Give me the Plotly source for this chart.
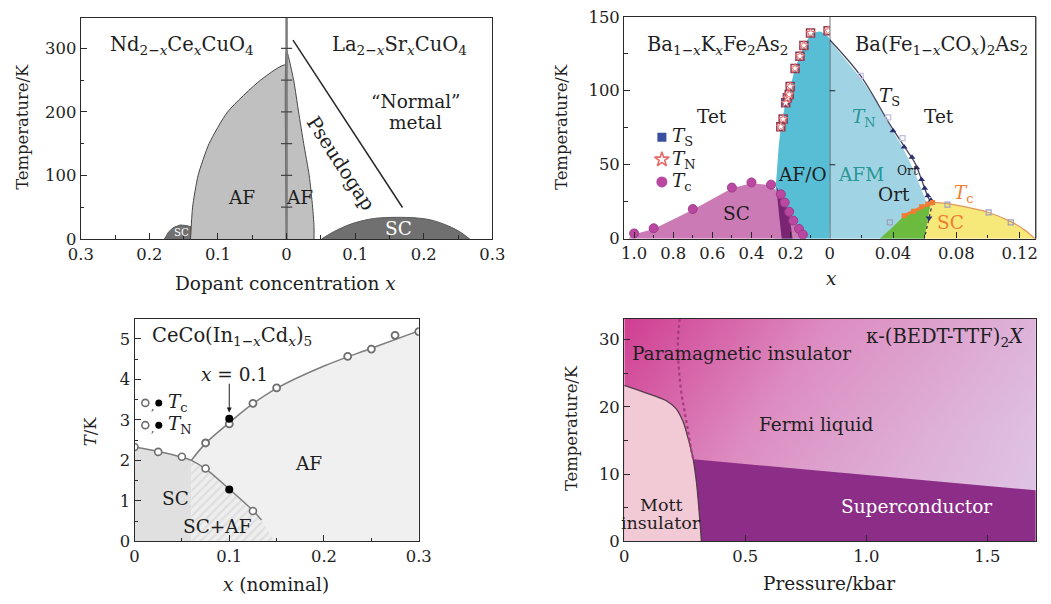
import plotly.graph_objects as go

W, H = 1051, 604
FONT = "DejaVu Serif"
FS = 1.027  # font scale


def px(x):
    return (1.0144 * x - 12.35) / W


def py(y):
    return 1 - (1.0128 * y - 2.63) / H


def fs(s):
    return round(s * FS, 1)


# ---------------- Panel (a): cuprates ----------------
a_af_left_x = [-0.140, -0.137, -0.129, -0.113, -0.086, -0.038, 0.0]
a_af_left_T = [0, 50, 100, 150, 200, 250, 274]
a_af_right_x = [0.0, 0.0103, 0.0175, 0.025, 0.033, 0.038, 0.040, 0.040]
a_af_right_T = [296, 250, 200, 150, 100, 50, 20, 0]
a_sc_small_x = [-0.178, -0.172, -0.165, -0.155, -0.146, -0.139]
a_sc_small_T = [0, 11, 18, 22, 21, 19]
a_sc_x = [0.051, 0.07, 0.09, 0.11, 0.13, 0.16, 0.19, 0.21, 0.23, 0.25, 0.267]
a_sc_T = [0, 12, 22, 28.5, 32.5, 34, 33, 30, 23, 13, 0]
a_pg_x = [0.0094, 0.169]
a_pg_T = [313, 49.5]
a_axis_ticks_T = [50, 100, 150, 200, 250, 300]

# ---------------- Panel (b): iron pnictides ----------------
b_tc_K_x = [1.0, 0.9, 0.7, 0.5, 0.4, 0.3, 0.25, 0.23, 0.207, 0.186, 0.157, 0.137]
b_tc_K_T = [3.5, 7.0, 20.0, 34.5, 38.0, 36.5, 30.0, 24.4, 18.2, 12.2, 6.6, 2.7]
b_tn_K_x = [0.25, 0.238, 0.225, 0.216, 0.207, 0.202, 0.177, 0.152, 0.132, 0.098, 0.008]
b_tn_K_T = [75.7, 80.8, 91.8, 95.2, 97.4, 102.9, 115.1, 123.3, 130.6, 139.0, 140.5]
b_ts_K_x = [0.225]
b_ts_K_T = [91.8]
b_afo_x = [0.28, 0.276, 0.27, 0.262, 0.25, 0.225, 0.2, 0.177, 0.15, 0.12, 0.09, 0.05, 0.02, 0.0, 0.0]
b_afo_T = [0, 35, 45, 60, 75, 92, 103, 115, 124, 133, 138.5, 140, 138, 135, 0]
b_scK_x = [1.03, 1.0, 0.9, 0.7, 0.5, 0.4, 0.3, 0.25, 0.23, 0.207, 0.186, 0.157, 0.137, 0.125]
b_scK_T = [0, 3.0, 6.5, 19.5, 34.0, 37.5, 36.0, 29.5, 24.0, 17.8, 11.8, 6.2, 2.4, 0]
b_coex_x = [0.272, 0.25, 0.23, 0.207, 0.19, 0.245, 0.258, 0.268]
b_coex_T = [35, 29.5, 24.0, 17.8, 0, 0, 15, 28]
b_afm_x = [0.0, 0.0, 0.02, 0.03, 0.037, 0.047, 0.054, 0.058, 0.061, 0.062, 0.060]
b_afm_T = [0, 134, 108, 92, 78, 60, 44, 33, 25, 22, 0]
b_ort_x = [0.0316, 0.04, 0.047, 0.0556, 0.0619, 0.064, 0.062, 0.0598]
b_ort_T = [0, 8, 15.5, 20.4, 24.0, 24.5, 13, 0]
b_scCo_x = [0.0598, 0.062, 0.064, 0.0744, 0.09, 0.1004, 0.1144, 0.123, 0.1296]
b_scCo_T = [0, 13, 24.5, 23.7, 20.5, 17.7, 11.5, 6, 0]
b_ts_Co_x = [0.0, 0.0196, 0.0379, 0.0473, 0.054, 0.0588, 0.0629, 0.065]
b_ts_Co_T = [134.5, 110, 77.4, 62, 50.9, 37.6, 26.5, 24.4]
b_tri_x = [0.04, 0.047, 0.052, 0.055, 0.058, 0.060, 0.062, 0.064]
b_tri_T = [73, 62, 55, 48, 40, 34, 29, 26]
b_tcCo_x = [0.047, 0.053, 0.058, 0.062, 0.065]
b_tcCo_T = [15.5, 18.5, 21.5, 23.5, 24.5]
b_tcCo_open_x = [0.038, 0.0744, 0.1004, 0.1144]
b_tcCo_open_T = [11.0, 23.0, 17.7, 11.0]
b_split_x = [0.065, 0.0625, 0.0598]
b_split_T = [24.4, 12, 0]
b_open_ts_x = [0.0196, 0.037, 0.046]
b_open_ts_T = [110, 82, 68]
b_axis_ticks_T = [50, 100]

# ---------------- Panel (c): CeCo(In1-xCdx)5 ----------------
c_tc_x = [0, 0.025, 0.05, 0.075, 0.125]
c_tc_T = [2.33, 2.21, 2.09, 1.80, 0.75]
c_tc_fill_x = [0.1]
c_tc_fill_T = [1.28]
c_tn_x = [0.075, 0.1, 0.125, 0.15, 0.225, 0.25, 0.275, 0.3]
c_tn_T = [2.43, 2.90, 3.41, 3.79, 4.57, 4.75, 5.09, 5.18]
c_tn_fill_x = [0.1]
c_tn_fill_T = [3.03]
c_tc_curve_x = [0, 0.025, 0.05, 0.06, 0.075, 0.1, 0.125, 0.134]
c_tc_curve_T = [2.33, 2.22, 2.08, 2.0, 1.79, 1.29, 0.76, 0.53]
c_tn_curve_x = [0.06, 0.075, 0.1, 0.125, 0.15, 0.2, 0.25, 0.3]
c_tn_curve_T = [2.0, 2.42, 2.93, 3.40, 3.78, 4.33, 4.77, 5.2]
c_coex_end_x = 0.148

# ---------------- Panel (d): kappa-(BEDT-TTF)2X ----------------
d_mott_P = [0, 0.104, 0.174, 0.215, 0.243, 0.264, 0.285, 0.299, 0.31, 0.319]
d_mott_T = [23.2, 21.9, 20.9, 19.7, 17.8, 15.3, 12.2, 8.6, 4.2, 0]
d_sc_P = [0.285, 1.7]
d_sc_T = [12.2, 7.6]
d_cross_P = [0.229, 0.222, 0.225, 0.236, 0.25, 0.264, 0.278, 0.285]
d_cross_T = [33.1, 29.9, 26, 22.1, 19.2, 16.3, 13.4, 12.2]
d_bg_P = [0, 0.85, 1.7]
d_bg_T = [0, 16.5, 33.1]
d_bg_z = [[0.35, 0.75, 1.0], [0.18, 0.62, 0.95], [0.0, 0.45, 0.82]]

fig = go.Figure()

XA, YA = "x", "y"
fig.add_trace(go.Scatter(x=a_sc_small_x + [a_sc_small_x[-1]], y=a_sc_small_T + [0],
                         fill="toself", fillcolor="rgb(112,112,112)", mode="lines",
                         line=dict(color="rgb(90,90,90)", width=1), xaxis=XA, yaxis=YA))
fig.add_trace(go.Scatter(x=a_sc_x, y=a_sc_T, fill="toself", fillcolor="rgb(112,112,112)",
                         mode="lines", line=dict(color="rgb(90,90,90)", width=1, shape="spline"),
                         xaxis=XA, yaxis=YA))
fig.add_trace(go.Scatter(x=a_af_left_x + [0.0], y=a_af_left_T + [0], fill="toself",
                         fillcolor="rgb(192,192,192)", mode="lines",
                         line=dict(color="rgb(70,70,70)", width=1, shape="spline", smoothing=0.6),
                         xaxis=XA, yaxis=YA))
fig.add_trace(go.Scatter(x=[0.0] + a_af_right_x, y=[0] + a_af_right_T, fill="toself",
                         fillcolor="rgb(192,192,192)", mode="lines",
                         line=dict(color="rgb(70,70,70)", width=1, shape="spline", smoothing=0.6),
                         xaxis=XA, yaxis=YA))
fig.add_trace(go.Scatter(x=a_pg_x, y=a_pg_T, mode="lines", line=dict(color="rgb(40,40,40)", width=1.5),
                         xaxis=XA, yaxis=YA))
fig.add_trace(go.Scatter(x=[0, 0], y=[0, 348], mode="lines", line=dict(color="rgb(125,125,125)", width=2.5),
                         xaxis=XA, yaxis=YA))
fig.add_trace(go.Scatter(x=[0] * len(a_axis_ticks_T), y=a_axis_ticks_T, mode="markers",
                         marker=dict(symbol="line-ew", size=8, line=dict(color="rgb(70,70,70)", width=1.2)),
                         xaxis=XA, yaxis=YA))

XL, XR, YB = "x2", "x3", "y2"
CYAN = "rgb(88,190,214)"
fig.add_trace(go.Scatter(x=b_afo_x, y=b_afo_T, fill="toself", fillcolor=CYAN, mode="lines",
                         line=dict(width=0, color=CYAN, shape="spline", smoothing=0.5), xaxis=XL, yaxis=YB))
fig.add_trace(go.Scatter(x=b_scK_x, y=b_scK_T, fill="toself", fillcolor="rgb(204,122,182)", mode="lines",
                         line=dict(width=0, color="rgb(204,122,182)"), xaxis=XL, yaxis=YB))
fig.add_trace(go.Scatter(x=b_coex_x, y=b_coex_T, fill="toself", fillcolor="rgb(122,36,116)", mode="lines",
                         line=dict(width=0, color="rgb(122,36,116)"), xaxis=XL, yaxis=YB))
fig.add_trace(go.Scatter(x=b_tc_K_x, y=b_tc_K_T, mode="markers",
                         marker=dict(symbol="circle", size=9, color="rgb(186,72,160)",
                                     line=dict(color="rgb(160,60,140)", width=1)), xaxis=XL, yaxis=YB))
fig.add_trace(go.Scatter(x=b_tn_K_x, y=b_tn_K_T, mode="markers",
                         marker=dict(symbol="square-open", size=8, color="rgb(140,60,80)",
                                     line=dict(width=1.5)), xaxis=XL, yaxis=YB))
fig.add_trace(go.Scatter(x=b_ts_K_x, y=b_ts_K_T, mode="markers",
                         marker=dict(symbol="square", size=7, color="rgb(55,80,160)"), xaxis=XL, yaxis=YB))
fig.add_trace(go.Scatter(x=b_tn_K_x, y=b_tn_K_T, mode="markers",
                         marker=dict(symbol="star", size=7, color="white",
                                     line=dict(color="rgb(235,105,105)", width=1)), xaxis=XL, yaxis=YB))
fig.add_trace(go.Scatter(x=[0.858], y=[68.5], mode="markers",
                         marker=dict(symbol="square", size=9, color="rgb(55,80,160)"), xaxis=XL, yaxis=YB))
fig.add_trace(go.Scatter(x=[0.858], y=[53.5], mode="markers",
                         marker=dict(symbol="star", size=11, color="white",
                                     line=dict(color="rgb(235,105,105)", width=1.6)), xaxis=XL, yaxis=YB))
fig.add_trace(go.Scatter(x=[0.858], y=[38.3], mode="markers",
                         marker=dict(symbol="circle", size=11, color="rgb(186,72,160)"), xaxis=XL, yaxis=YB))

fig.add_trace(go.Scatter(x=b_afm_x, y=b_afm_T, fill="toself", fillcolor="rgb(160,212,228)", mode="lines",
                         line=dict(width=0, color="rgb(160,212,228)"), xaxis=XR, yaxis=YB))
fig.add_trace(go.Scatter(x=b_ort_x, y=b_ort_T, fill="toself", fillcolor="rgb(108,186,62)", mode="lines",
                         line=dict(width=0, color="rgb(108,186,62)"), xaxis=XR, yaxis=YB))
fig.add_trace(go.Scatter(x=b_scCo_x, y=b_scCo_T, fill="toself", fillcolor="rgb(246,233,122)", mode="lines",
                         line=dict(width=0, color="rgb(246,233,122)"), xaxis=XR, yaxis=YB))
fig.add_trace(go.Scatter(x=b_scCo_x[2:], y=b_scCo_T[2:], mode="lines",
                         line=dict(color="rgb(225,150,90)", width=1.2, shape="spline"), xaxis=XR, yaxis=YB))
fig.add_trace(go.Scatter(x=b_ts_Co_x, y=b_ts_Co_T, mode="lines",
                         line=dict(color="rgb(70,70,95)", width=1.3, shape="spline"), xaxis=XR, yaxis=YB))
fig.add_trace(go.Scatter(x=b_split_x, y=b_split_T, mode="lines",
                         line=dict(color="rgb(40,40,60)", width=1.2, dash="dot"), xaxis=XR, yaxis=YB))
fig.add_trace(go.Scatter(x=b_open_ts_x, y=b_open_ts_T, mode="markers",
                         marker=dict(symbol="square-open", size=5, color="rgb(190,190,225)", line=dict(width=1.2)),
                         xaxis=XR, yaxis=YB))
fig.add_trace(go.Scatter(x=b_tri_x, y=b_tri_T, mode="markers",
                         marker=dict(symbol="triangle-up", size=6, color="rgb(40,45,110)"), xaxis=XR, yaxis=YB))
fig.add_trace(go.Scatter(x=[0.0628], y=[14], mode="markers",
                         marker=dict(symbol="triangle-down", size=6, color="rgb(40,45,110)"), xaxis=XR, yaxis=YB))
fig.add_trace(go.Scatter(x=b_tcCo_x, y=b_tcCo_T, mode="lines+markers",
                         line=dict(color="rgb(240,125,50)", width=3),
                         marker=dict(symbol="square", size=5, color="rgb(240,125,50)"), xaxis=XR, yaxis=YB))
fig.add_trace(go.Scatter(x=b_tcCo_open_x, y=b_tcCo_open_T, mode="markers",
                         marker=dict(symbol="square-open", size=5, color="rgb(160,160,185)", line=dict(width=1.2)),
                         xaxis=XR, yaxis=YB))
fig.add_trace(go.Scatter(x=[0.0004] * len(b_axis_ticks_T), y=b_axis_ticks_T, mode="markers",
                         marker=dict(symbol="line-ew", size=7, line=dict(color="rgb(30,30,30)", width=1.1)),
                         xaxis=XR, yaxis=YB))

XC, YC = "x4", "y3"
GRAYLINE = "rgb(125,125,125)"
fig.add_trace(go.Scatter(x=[c_tn_curve_x[0]] + c_tn_curve_x + [c_tn_curve_x[-1]],
                         y=[0] + c_tn_curve_T + [0], fill="toself", fillcolor="rgb(240,240,240)",
                         mode="lines", line=dict(width=0, color="rgb(240,240,240)"), xaxis=XC, yaxis=YC))
fig.add_trace(go.Scatter(x=[0] + c_tc_curve_x[:4] + [c_tc_curve_x[3]],
                         y=[0] + c_tc_curve_T[:4] + [0], fill="toself", fillcolor="rgb(224,224,224)",
                         mode="lines", line=dict(width=0, color="rgb(224,224,224)"), xaxis=XC, yaxis=YC))
fig.add_trace(go.Scatter(x=[c_tc_curve_x[3]] + c_tc_curve_x[3:] + [c_coex_end_x],
                         y=[0] + c_tc_curve_T[3:] + [0], fill="toself", mode="lines",
                         fillcolor="rgb(236,236,236)",
                         fillpattern=dict(shape="/", bgcolor="rgb(238,238,238)", fgcolor="rgb(205,205,205)",
                                          size=6, solidity=0.35),
                         line=dict(width=0, color="rgb(236,236,236)"), xaxis=XC, yaxis=YC))
fig.add_trace(go.Scatter(x=c_tc_curve_x, y=c_tc_curve_T, mode="lines",
                         line=dict(color=GRAYLINE, width=1.5, shape="spline"), xaxis=XC, yaxis=YC))
fig.add_trace(go.Scatter(x=c_tn_curve_x, y=c_tn_curve_T, mode="lines",
                         line=dict(color=GRAYLINE, width=1.5, shape="spline"), xaxis=XC, yaxis=YC))
fig.add_trace(go.Scatter(x=c_tc_x, y=c_tc_T, mode="markers",
                         marker=dict(symbol="circle", size=7, color="white", line=dict(color="rgb(110,110,110)", width=1.6)),
                         xaxis=XC, yaxis=YC))
fig.add_trace(go.Scatter(x=c_tn_x, y=c_tn_T, mode="markers",
                         marker=dict(symbol="circle", size=7, color="white", line=dict(color="rgb(110,110,110)", width=1.8)),
                         xaxis=XC, yaxis=YC))
fig.add_trace(go.Scatter(x=c_tc_fill_x + c_tn_fill_x, y=c_tc_fill_T + c_tn_fill_T, mode="markers",
                         marker=dict(symbol="circle", size=8, color="black"), xaxis=XC, yaxis=YC))
fig.add_trace(go.Scatter(x=[0.0114, 0.0114], y=[3.42, 2.87], mode="markers",
                         marker=dict(symbol="circle", size=7, color="white", line=dict(color="rgb(110,110,110)", width=1.6)),
                         xaxis=XC, yaxis=YC))
fig.add_trace(go.Scatter(x=[0.0256, 0.0256], y=[3.42, 2.87], mode="markers",
                         marker=dict(symbol="circle", size=7, color="black"), xaxis=XC, yaxis=YC))

XD, YD = "x5", "y4"
fig.add_trace(go.Heatmap(x=d_bg_P, y=d_bg_T, z=d_bg_z, zsmooth="best", showscale=False, hoverinfo="skip",
                         colorscale=[[0, "rgb(208,62,146)"], [0.45, "rgb(221,140,192)"], [1, "rgb(222,198,230)"]],
                         xaxis=XD, yaxis=YD))
fig.add_trace(go.Scatter(x=[0] + d_mott_P + [0], y=[0] + d_mott_T + [0], fill="toself",
                         fillcolor="rgb(242,202,214)", mode="lines",
                         line=dict(width=0, color="rgb(242,202,214)"), xaxis=XD, yaxis=YD))
fig.add_trace(go.Scatter(x=d_sc_P + [d_sc_P[-1]] + d_mott_P[6:][::-1],
                         y=d_sc_T + [0] + d_mott_T[6:][::-1], fill="toself",
                         fillcolor="rgb(140,45,136)", mode="lines",
                         line=dict(width=0, color="rgb(140,45,136)"), xaxis=XD, yaxis=YD))
fig.add_trace(go.Scatter(x=d_mott_P, y=d_mott_T, mode="lines",
                         line=dict(color="rgb(85,60,75)", width=1.3, shape="spline"), xaxis=XD, yaxis=YD))
fig.add_trace(go.Scatter(x=d_cross_P, y=d_cross_T, mode="lines",
                         line=dict(color="rgb(165,60,125)", width=2.2, dash="dot", shape="spline"),
                         xaxis=XD, yaxis=YD))


def ax(**kw):
    base = dict(showgrid=False, zeroline=False, showline=True, linecolor="#2a2a2a", linewidth=1.3,
                ticks="inside", ticklen=6, tickwidth=1.1, tickcolor="#2a2a2a", ticklabeloverflow="allow",
                tickfont=dict(family=FONT, size=fs(16), color="#1e1e1e"), fixedrange=True, layer="above traces")
    base.update(kw)
    return base


def minor(vals, ln=3.5):
    return dict(tickmode="array", tickvals=vals, ticks="inside", ticklen=ln, tickwidth=1, tickcolor="#2a2a2a",
                showgrid=False)


fig.update_layout(
    width=W, height=H, margin=dict(l=0, r=0, t=0, b=0),
    paper_bgcolor="white", plot_bgcolor="white", showlegend=False,
    font=dict(family=FONT, size=fs(16), color="#1e1e1e"),
    xaxis=ax(domain=[px(80.7), px(496.7)], range=[-0.3, 0.3], anchor="y", mirror=True,
             tickmode="array", tickvals=[-0.3, -0.2, -0.1, 0, 0.1, 0.2, 0.3],
             ticktext=["0.3", "0.2", "0.1", "0", "0.1", "0.2", "0.3"], ticklabelstandoff=0,
             minor=minor([-0.25, -0.15, -0.05, 0.05, 0.15, 0.25])),
    yaxis=ax(domain=[py(237), py(11.7)], range=[0, 348], anchor="x", mirror=True,
             tickmode="array", tickvals=[0, 100, 200, 300], minor=minor([50, 150, 250])),
    xaxis2=ax(domain=[px(630), px(837.7)], range=[1.0506, 0], anchor="y2", mirror=True,
              tickmode="array", tickvals=[1.0, 0.8, 0.6, 0.4, 0.2, 0],
              ticktext=["1.0", "0.8", "0.6", "0.4", "0.2", "0"], ticklabelstandoff=0,
              minor=minor([0.9, 0.7, 0.5, 0.3, 0.1])),
    xaxis3=ax(domain=[px(837.7), px(1046)], range=[0, 0.1302], anchor="y2", mirror=True,
              tickmode="array", tickvals=[0.04, 0.08, 0.12], ticktext=["0.04", "0.08", "0.12"],
              ticklabelstandoff=0, minor=minor([0.02, 0.06, 0.10])),
    yaxis2=ax(domain=[py(236.7), py(10.5)], range=[0, 150], anchor="x2",
              tickmode="array", tickvals=[0, 50, 100, 150], minor=minor([25, 75, 125])),
    xaxis4=ax(domain=[px(135), px(422.3)], range=[0, 0.3], anchor="y3", mirror=True,
              tickmode="array", tickvals=[0, 0.1, 0.2, 0.3], ticktext=["0", "0.1", "0.2", "0.3"],
              ticklabelstandoff=0, minor=minor([0.05, 0.15, 0.25])),
    yaxis3=ax(domain=[py(545.3), py(318.3)], range=[0, 5.5], anchor="x4", mirror=True,
              tickmode="array", tickvals=[0, 1, 2, 3, 4, 5],
              minor=minor([0.5, 1.5, 2.5, 3.5, 4.5])),
    xaxis5=ax(domain=[px(630), px(1046)], range=[0, 1.7], anchor="y4", mirror=True,
              tickmode="array", tickvals=[0, 0.5, 1.0, 1.5], ticktext=["0", "0.5", "1.0", "1.5"],
              ticklabelstandoff=0),
    yaxis4=ax(domain=[py(545.3), py(318.3)], range=[0, 33.1], anchor="x5", mirror=True,
              tickmode="array", tickvals=[0, 10, 20, 30], minor=minor([5, 15, 25])),
)

fig.add_shape(type="line", xref="x3 domain", yref="y2 domain", x0=1, x1=1, y0=0, y1=1,
              line=dict(color="#2a2a2a", width=1.3), layer="above")
fig.add_shape(type="line", xref="x3", yref="y2", x0=0, x1=0, y0=0, y1=150,
              line=dict(color="#1a1a1a", width=1.2), layer="above")

anns = []


def A(text, x, y, xref, yref, size=18, color="#1e1e1e", angle=0, xanchor="center", yanchor="middle"):
    anns.append(dict(text=text, x=x, y=y, xref=xref, yref=yref, showarrow=False, textangle=angle,
                     xanchor=xanchor, yanchor=yanchor, font=dict(family=FONT, size=fs(size), color=color)))


A("Nd<sub>2−<i>x</i></sub>Ce<sub><i>x</i></sub>CuO<sub>4</sub>", -0.153, 305, XA, YA, size=19)
A("La<sub>2−<i>x</i></sub>Sr<sub><i>x</i></sub>CuO<sub>4</sub>", 0.164, 305, XA, YA, size=19)
A("“Normal”", 0.188, 216, XA, YA)
A("metal", 0.188, 184, XA, YA)
A("Pseudogap", 0.079, 119, XA, YA, angle=57, size=19)
A("AF", -0.0655, 65, XA, YA)
A("AF", 0.0185, 65, XA, YA)
A("SC", -0.153, 11, XA, YA, size=10, color="white")
A("SC", 0.163, 16, XA, YA, color="white")

A("Ba<sub>1−<i>x</i></sub>K<sub><i>x</i></sub>Fe<sub>2</sub>As<sub>2</sub>", 0.57, 130.6, XL, YB, size=19)
A("Ba(Fe<sub>1−<i>x</i></sub>CO<sub><i>x</i></sub>)<sub>2</sub>As<sub>2</sub>", 0.0705, 130.6, XR, YB, size=19)
A("Tet", 0.60, 82.8, XL, YB)
A("Tet", 0.069, 82.8, XR, YB)
A("<i>T</i><sub>S</sub>", 0.815, 68.5, XL, YB, xanchor="left")
A("<i>T</i><sub>N</sub>", 0.815, 53.5, XL, YB, xanchor="left")
A("<i>T</i><sub>c</sub>", 0.815, 38.3, XL, YB, xanchor="left")
A("SC", 0.476, 16.7, XL, YB)
A("AF/O", 0.137, 43.2, XL, YB)
A("AFM", 0.0196, 43.2, XR, YB, color="rgb(40,150,150)")
A("<i>T</i><sub>N</sub>", 0.0217, 81.7, XR, YB, color="rgb(40,150,150)")
A("<i>T</i><sub>S</sub>", 0.0375, 96, XR, YB)
A("Ort", 0.049, 45.4, XR, YB, size=12)
A("Ort", 0.0406, 30, XR, YB)
A("<i>T</i><sub>c</sub>", 0.0848, 30, XR, YB, color="rgb(240,125,50)")
A("SC", 0.0764, 11.2, XR, YB, color="rgb(240,125,50)")

A("CeCo(In<sub>1−<i>x</i></sub>Cd<sub><i>x</i></sub>)<sub>5</sub>", 0.0165, 5.06, XC, YC, xanchor="left", size=19)
A("<i>x</i> = 0.1", 0.106, 4.13, XC, YC)
A(",", 0.019, 3.35, XC, YC, size=10)
A(",", 0.019, 2.80, XC, YC, size=10)
A("<i>T</i><sub>c</sub>", 0.0335, 3.42, XC, YC, xanchor="left")
A("<i>T</i><sub>N</sub>", 0.0335, 2.87, XC, YC, xanchor="left")
A("SC", 0.0434, 1.05, XC, YC)
A("SC+AF", 0.0876, 0.36, XC, YC)
A("AF", 0.184, 1.93, XC, YC)
anns.append(dict(text="", x=0.1, y=3.18, ax=0.1, ay=3.93, xref=XC, yref=YC, axref=XC, ayref=YC,
                 showarrow=True, arrowhead=2, arrowsize=1, arrowwidth=1, arrowcolor="#1e1e1e"))

A("κ-(BEDT-TTF)<sub>2</sub><i>X</i>", 1.66, 30.3, XD, YD, xanchor="right", size=19)
A("Paramagnetic insulator", 0.486, 27.9, XD, YD)
A("Fermi liquid", 0.792, 17.3, XD, YD)
A("Superconductor", 1.208, 5.2, XD, YD, color="white")
A("Mott", 0.153, 5.4, XD, YD, size=17)
A("insulator", 0.153, 2.76, XD, YD, size=17)


def T(text, x, y, angle=0, size=17):
    anns.append(dict(text=text, x=px(x), y=py(y), xref="paper", yref="paper", showarrow=False,
                     textangle=angle, xanchor="center", yanchor="middle",
                     font=dict(family=FONT, size=fs(size), color="#1e1e1e")))


T("Temperature/K", 21, 123, -90, 16)
T("Dopant concentration <i>x</i>", 288, 282.5, size=18)
T("Temperature/K", 566, 123, -90, 16)
T("<i>x</i>", 840, 277.5, size=18)
T("<i>T</i>/K", 90, 433, -90, 16)
T("<i>x</i> (nominal)", 278, 589, size=18)
T("Temperature/K", 576, 430, -90, 16)
T("Pressure/kbar", 837, 588, size=18)

fig.update_layout(annotations=anns)
css_fix = ("var s=document.createElement('style');"
           "s.textContent='html,body{margin:0!important;padding:0!important;overflow:hidden!important;"
           "width:1051px;height:604px;}';"
           "document.head.appendChild(s);")
fig.write_html("out.html", post_script=css_fix, config={"displayModeBar": False})
